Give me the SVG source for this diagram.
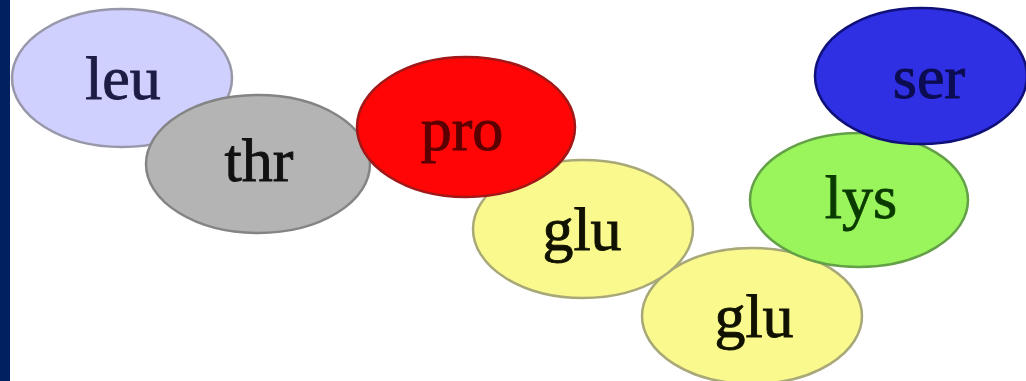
<svg xmlns="http://www.w3.org/2000/svg" width="1026" height="381" viewBox="0 0 1026 381">
  <style>
    .node ellipse { stroke-width: 2.5; }
    .lbl { font-family: "Liberation Serif", "DejaVu Serif", serif; font-size: 62px; text-anchor: middle; stroke-width: 0.9; }
  </style>
  <rect x="0" y="0" width="1026" height="381" fill="#ffffff"/>
  <rect x="0" y="0" width="10" height="381" fill="#00205f"/>
  <g id="connectors"/>
  <g id="glu2" class="node">
    <ellipse cx="752" cy="316" rx="110" ry="68" fill="#f9f98e" stroke="#a8a878"/>
    <text class="lbl" x="754" y="337" fill="#111100" stroke="#111100">glu</text>
  </g>
  <g id="lys" class="node">
    <ellipse cx="859" cy="200" rx="109" ry="67" fill="#9af55c" stroke="#64a048"/>
    <text class="lbl" x="861" y="218" fill="#0a3a00" stroke="#0a3a00">lys</text>
  </g>
  <g id="ser" class="node">
    <ellipse cx="921" cy="76" rx="106" ry="68" fill="#2f2fe4" stroke="#10107a"/>
    <text class="lbl" x="929" y="98" fill="#0c0c50" stroke="#0c0c50">ser</text>
  </g>
  <g id="leu" class="node">
    <ellipse cx="122" cy="78" rx="110" ry="69" fill="#d0d0fe" stroke="#9898aa"/>
    <text class="lbl" x="123" y="99" fill="#1c1c44" stroke="#1c1c44">leu</text>
  </g>
  <g id="thr" class="node">
    <ellipse cx="258" cy="164" rx="112" ry="69" fill="#b4b4b4" stroke="#848484"/>
    <text class="lbl" x="259" y="181" fill="#111111" stroke="#111111">thr</text>
  </g>
  <g id="glu1" class="node">
    <ellipse cx="583" cy="229" rx="110" ry="69" fill="#f9f98e" stroke="#a8a878"/>
    <text class="lbl" x="582" y="250" fill="#111100" stroke="#111100">glu</text>
  </g>
  <g id="pro" class="node">
    <ellipse cx="466" cy="127" rx="109" ry="70" fill="#ff0505" stroke="#a01818"/>
    <text class="lbl" x="462" y="150" fill="#5a0000" stroke="#5a0000">pro</text>
  </g>
</svg>
